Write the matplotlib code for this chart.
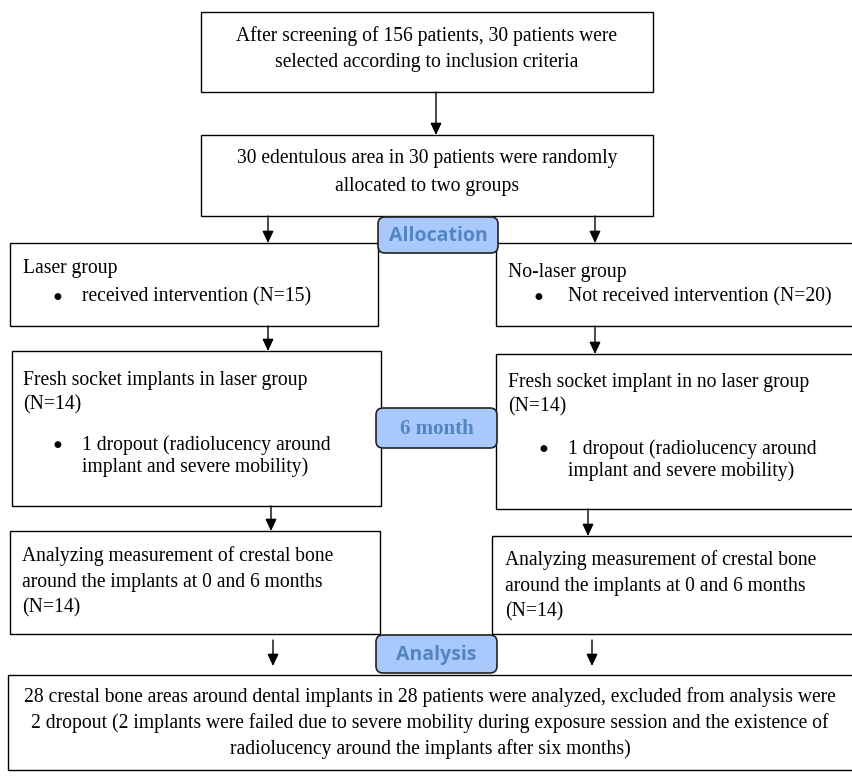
import matplotlib.pyplot as plt
from matplotlib.patches import Rectangle, FancyBboxPatch

plt.rcParams['font.family'] = ['Liberation Serif', 'DejaVu Serif']

# numbers in the flow
screened = 156
selected = 30
laser_n = 15
no_laser_n = 20
followup_n = [14, 14]
dropouts = [1, 1]
analyzed = 28
excluded = 2

stage_labels = ['Allocation', '6 month', 'Analysis']

top_lines = [f'After screening of {screened} patients, {selected} patients were',
             'selected according to inclusion criteria']
random_lines = [f'{selected} edentulous area in {selected} patients were randomly',
                'allocated to two groups']
group_titles = ['Laser group', 'No-laser group']
group_bullets = [f'received intervention (N={laser_n})',
                 f'Not received intervention (N={no_laser_n})']
fresh_titles = ['Fresh socket implants in laser group', 'Fresh socket implant in no laser group']
dropout_tail = 'implant and severe mobility)'
analyze_lines = ['Analyzing measurement of crestal bone',
                 'around the implants at 0 and 6 months']
bottom_lines = [f'{analyzed} crestal bone areas around dental implants in {analyzed} patients were analyzed, excluded from analysis were',
                f'{excluded} dropout ({excluded} implants were failed due to severe mobility during exposure session and the existence of',
                'radiolucency around the implants after six months)']

W, H = 853, 776
fig = plt.figure(figsize=(W / 100, H / 100), dpi=100)
ax = fig.add_axes([0, 0, 1, 1])
ax.set_xlim(0, W)
ax.set_ylim(H, 0)
ax.axis('off')

FS = 14.1
LW = 1.0


def box(x0, y0, x1, y1):
    ax.add_patch(Rectangle((x0, y0), x1 - x0, y1 - y0, fill=False, lw=LW, ec='black'))


def line(x, y, s, ha='left'):
    ax.text(x, y, s, fontsize=FS, ha=ha, va='center')


def bullet(xb, xt, y, s):
    ax.text(xb, y, '\u25cf', fontsize=6.5, family='DejaVu Sans', ha='center', va='center')
    line(xt, y, s)


def arrow(x, y0, y1):
    ax.annotate('', xy=(x, y1), xytext=(x, y0),
                arrowprops=dict(arrowstyle='-|>,head_length=0.6,head_width=0.28', lw=LW,
                                color='black', mutation_scale=12, shrinkA=0, shrinkB=0))


def stage(x0, y0, x1, y1, s, family, size):
    ax.add_patch(FancyBboxPatch((x0, y0), x1 - x0, y1 - y0,
                                boxstyle='round,pad=0,rounding_size=7',
                                fc='#a9c8fb', ec='#222222', lw=1.2, zorder=3))
    ax.text((x0 + x1) / 2, (y0 + y1) / 2 + 1, s, fontsize=size, fontweight='bold',
            family=family, color='#5485c3', ha='center', va='center', zorder=4)


# top boxes
box(201, 12, 653, 92)
for y, s in zip([36, 63], top_lines):
    line(427, y, s, ha='center')
arrow(436, 92, 135)

box(201, 135, 653, 216)
for y, s in zip([159, 187], random_lines):
    line(427, y, s, ha='center')
arrow(268, 216, 243)
arrow(595, 216, 243)

# allocation
box(10, 243, 378, 326)
line(23, 269, group_titles[0])
bullet(57, 82, 297, group_bullets[0])

box(496, 243, 860, 326)
line(508, 272, group_titles[1])
bullet(538, 568, 297, group_bullets[1])

arrow(268, 326, 351)
arrow(595, 326, 354)

# follow-up
box(12, 351, 381, 506)
line(23, 380, fresh_titles[0])
line(23, 405, f'(N={followup_n[0]})')
bullet(57, 82, 445, f'{dropouts[0]} dropout (radiolucency around')
line(82, 467, dropout_tail)

box(496, 354, 860, 509)
line(508, 382, fresh_titles[1])
line(508, 407, f'(N={followup_n[1]})')
bullet(543, 568, 449, f'{dropouts[1]} dropout (radiolucency around')
line(568, 471, dropout_tail)

arrow(271, 506, 531)
arrow(588, 509, 536)

# analysis
box(10, 531, 380, 634)
for y, s in zip([556, 582, 608], analyze_lines + [f'(N={followup_n[0]})']):
    line(22, y, s)

box(492, 536, 860, 634)
for y, s in zip([560, 586, 612], analyze_lines + [f'(N={followup_n[1]})']):
    line(505, y, s)

arrow(273, 640, 666)
arrow(592, 640, 666)

box(8, 675, 860, 770)
for y, s in zip([697, 723, 749], bottom_lines):
    line(430, y, s, ha='center')

# stage labels
stage(378, 217, 498, 253, stage_labels[0], ['Open Sans', 'DejaVu Sans'], 14)
stage(376, 408, 497, 448, stage_labels[1], ['Liberation Serif', 'DejaVu Serif'], 15)
stage(376, 635, 497, 673, stage_labels[2], ['Open Sans', 'DejaVu Sans'], 14)

fig.savefig('out.png', dpi=100)
